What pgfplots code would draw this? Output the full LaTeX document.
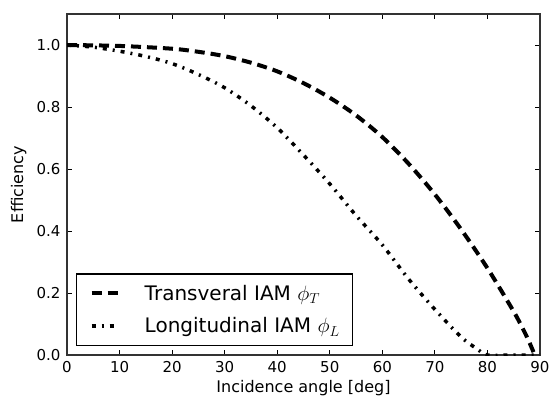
\documentclass[border=0pt]{standalone}
\usepackage{fontspec}
\setmainfont{DejaVu Sans}
\usepackage{pgfplots}
\pgfplotsset{compat=1.18}
\usetikzlibrary{calc}
\begin{document}
\begin{tikzpicture}
\begin{axis}[
  width=473pt, height=341pt, scale only axis,
  xmin=0, xmax=90, ymin=0, ymax=1.1,
  xtick={0,10,...,90}, ytick={0,0.2,0.4,0.6,0.8,1.0},
  tick align=inside,
  major tick length=5pt,
  tick style={black, line width=0.8pt},
  axis line style={line width=1.2pt, black!80},
  /pgf/number format/assume math mode=true,
  yticklabel style={/pgf/number format/fixed, /pgf/number format/fixed zerofill, /pgf/number format/precision=1, xshift=-3pt},
  xticklabel style={yshift=-3pt},
  ticklabel style={font=\fontsize{15}{15}\selectfont},
  label style={font=\fontsize{16}{16}\selectfont},
  xlabel={Incidence angle [deg]},
  ylabel={Efficiency},
  xlabel style={at={(axis description cs:0.5,-0.1114)}, anchor=base},
  ylabel style={at={(axis description cs:-0.0930,0.5)}, anchor=base},
  legend style={at={(0.019,0.026)}, anchor=south west, font=\fontsize{20}{20}\selectfont, draw=black, line width=1.5pt, inner xsep=13pt, inner ysep=11pt, row sep=16pt, column sep=24pt, nodes={inner sep=0pt}},
  legend cell align=left,
  legend image code/.code={\draw[#1] (0pt,0pt) -- (27pt,0pt);},
]
\addplot[black, line width=4pt, dash pattern=on 10pt off 6pt, smooth] coordinates {
(0,1.0) (10,0.997) (20,0.988) (25,0.978) (30,0.964) (35,0.943) (40,0.915) (45,0.877) (50,0.830) (55,0.773) (60,0.703) (65,0.617) (70,0.518) (75,0.405) (80,0.280) (85,0.140) (87,0.076) (88,0.04) (89,0.0)
};
\addlegendentry{Transveral IAM $\phi_T$}
\addplot[black, line width=3.5pt, dash pattern=on 4pt off 6pt on 2pt off 6pt, smooth] coordinates {
(0,1.0) (5,0.993) (10,0.980) (15,0.963) (20,0.940) (25,0.905) (30,0.862) (35,0.804) (40,0.733) (45,0.645) (50,0.552) (55,0.450) (60,0.355) (65,0.245) (70,0.147) (75,0.058) (78,0.02) (80,0.0) (85,0.0) (90,0.0)
};
\addlegendentry{Longitudinal IAM $\phi_L$}
\end{axis}
\pgfresetboundingbox
\path ($(current axis.south west)+(-67pt,-44pt)$) rectangle ($(current axis.north east)+(12pt,14pt)$);
\end{tikzpicture}
\end{document}
